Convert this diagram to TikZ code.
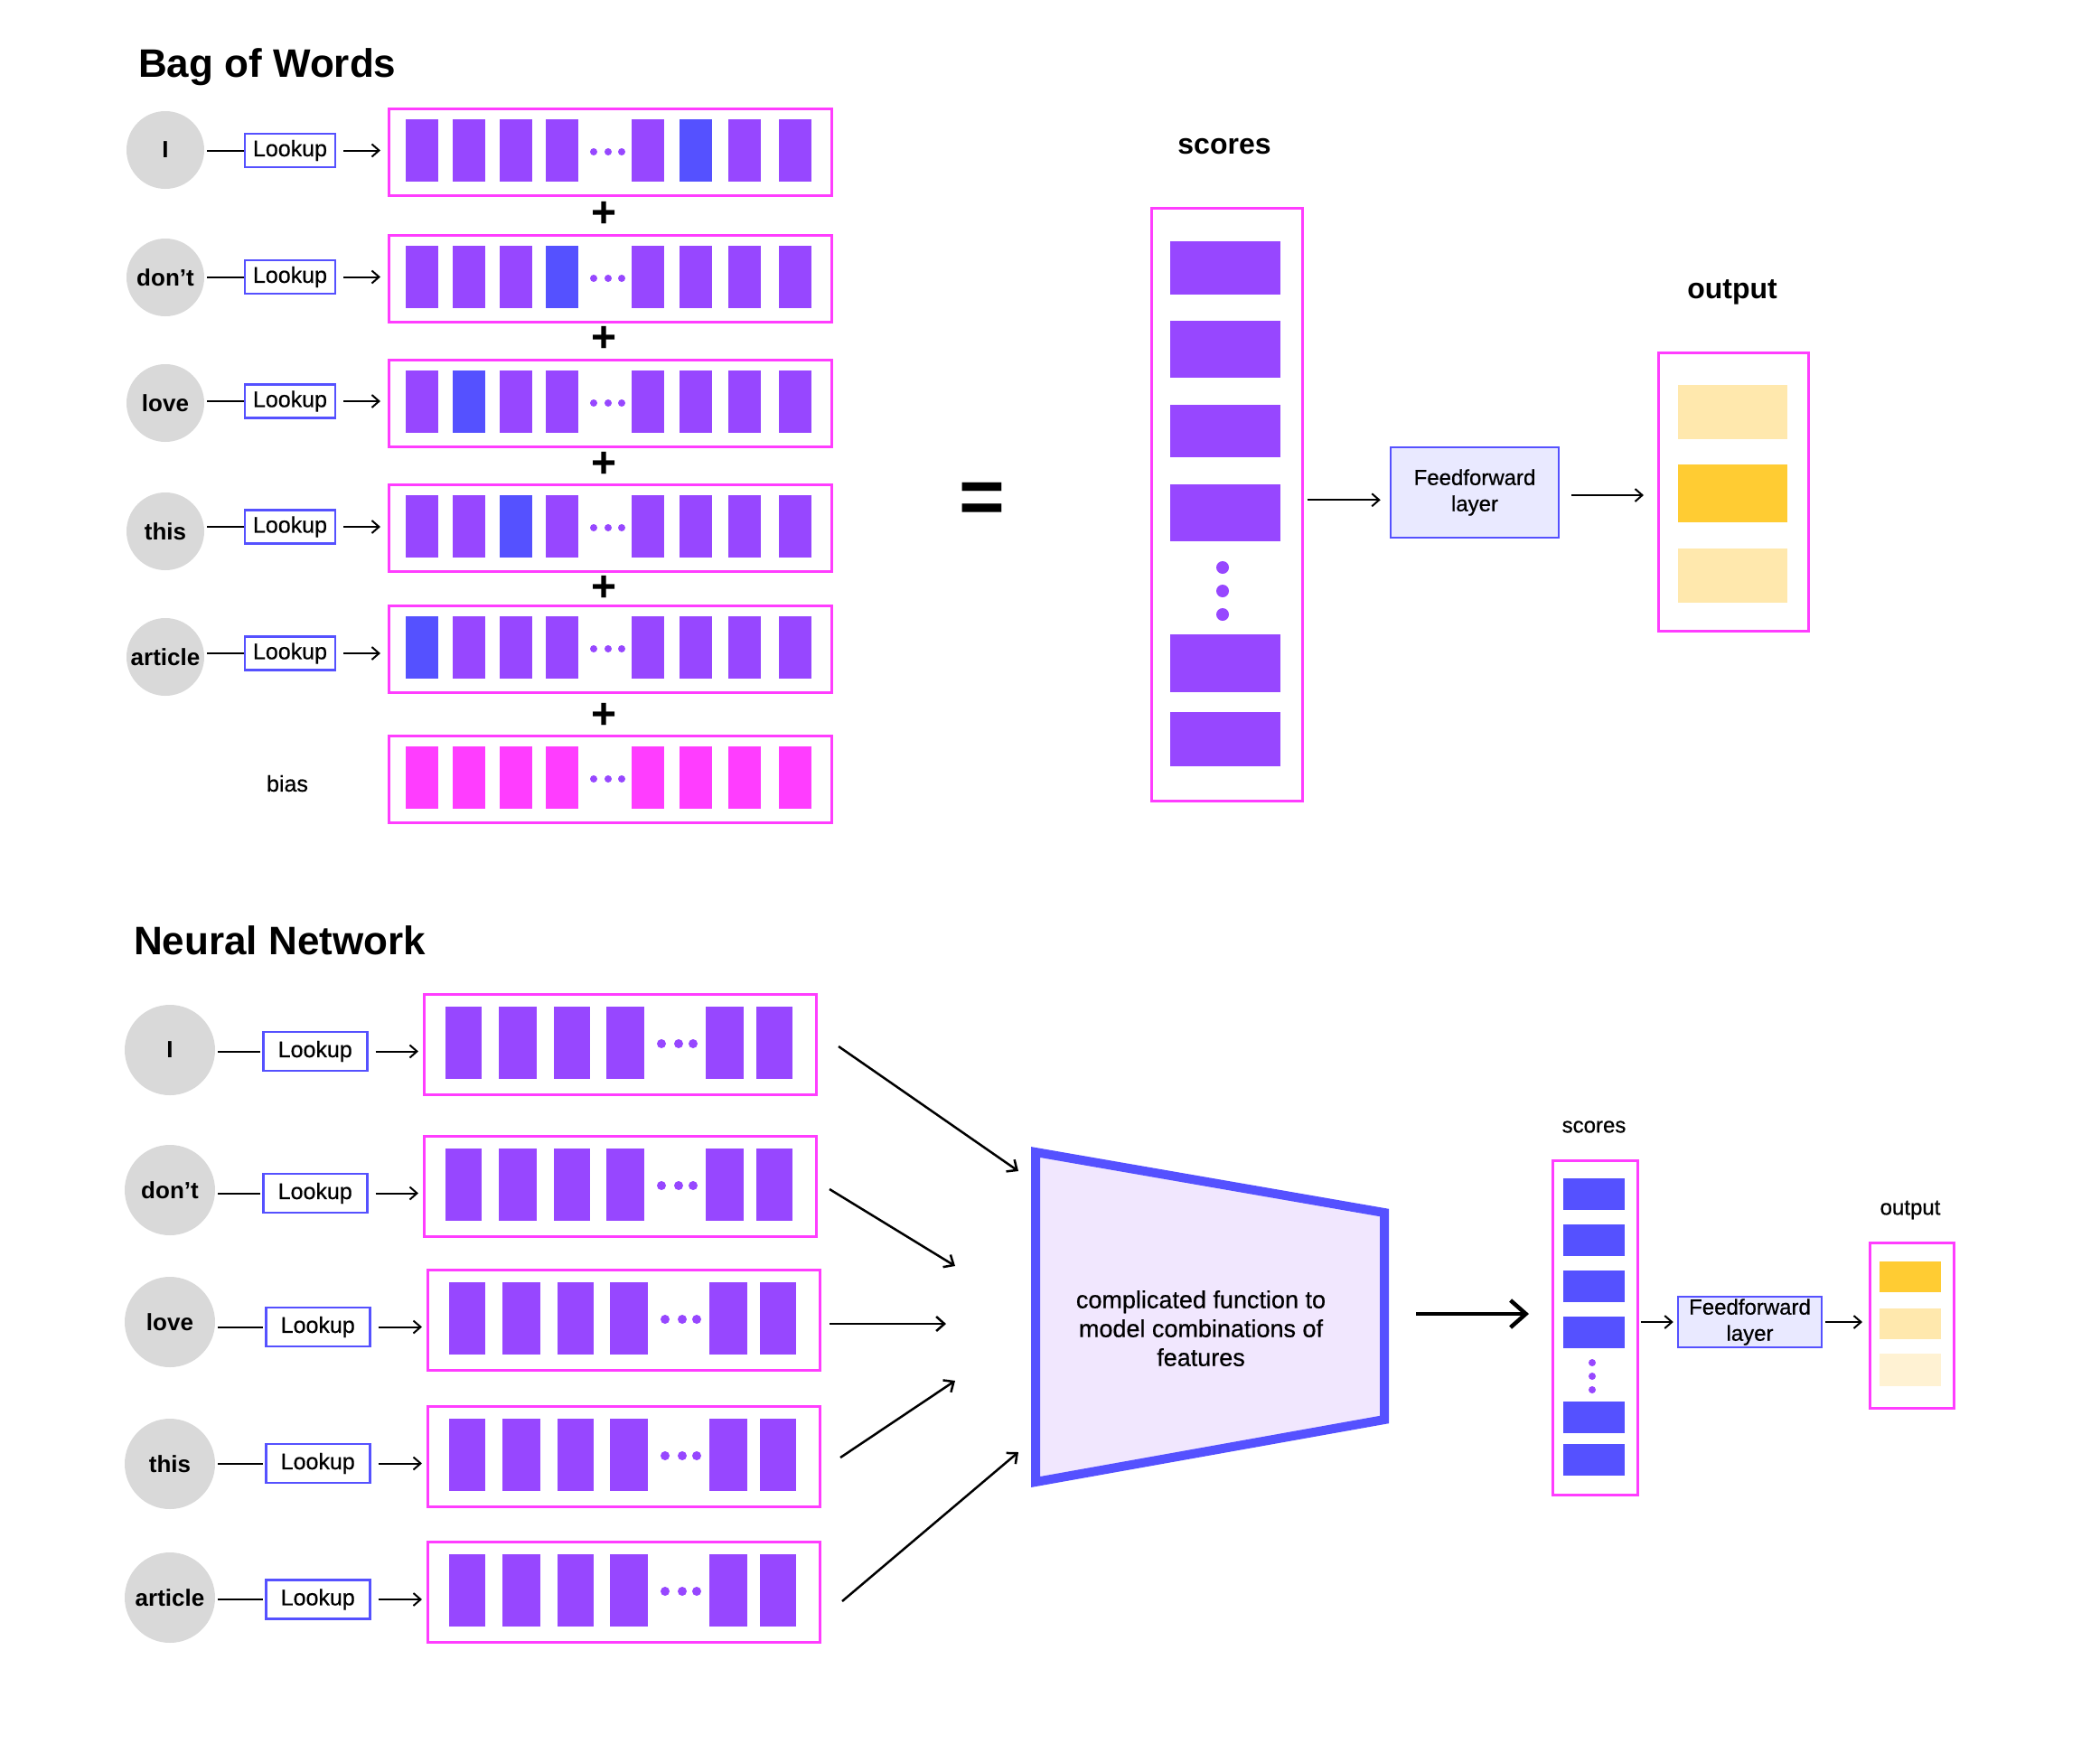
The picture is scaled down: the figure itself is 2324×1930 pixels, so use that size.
\documentclass[tikz,border=0pt]{standalone}
\usepackage{fontspec}
\setmainfont{Liberation Sans}
\newfontfamily\medfont{Liberation Sans}[FakeBold=0.6]
\usetikzlibrary{arrows.meta,calc}
\definecolor{vpurple}{HTML}{9747FF}
\definecolor{vblue}{HTML}{5551FF}
\definecolor{vmag}{HTML}{FF3DFF}
\definecolor{vgrey}{HTML}{D9D9D9}
\definecolor{fflav}{HTML}{E9E9FF}
\definecolor{trlav}{HTML}{F1E7FE}
\definecolor{vgold}{HTML}{FFCC33}
\definecolor{lightgold}{HTML}{FFE8AD}
\definecolor{palegold}{HTML}{FFF2D3}
\tikzset{
  vecbox/.style={draw=vmag, line width=2.5pt, fill=white, rectangle, inner sep=0pt, anchor=north west},
  lookbox/.style={draw=vblue, line width=2.5pt, fill=white, rectangle, inner sep=0pt, font=\medfont\fontsize{25}{30}\selectfont},
  word/.style={circle, fill=vgrey, inner sep=0pt, font=\bfseries\fontsize{26}{31}\selectfont},
  link/.style={line width=2pt},
  arr/.style={-{Straight Barb[length=8pt,width=14pt]}, line width=2pt},
  diag/.style={-{Straight Barb[length=9pt,width=16pt]}, line width=2.5pt},
  bigarr/.style={-{Straight Barb[length=17pt,width=30pt]}, line width=4.5pt},
  ffbox/.style={draw=vblue, line width=2.5pt, fill=fflav, align=center, inner sep=0pt},
  titletext/.style={font=\bfseries\fontsize{44}{53}\selectfont, inner sep=0pt},
  bigl/.style={font=\bfseries\fontsize{32}{38}\selectfont, inner sep=0pt},
  smalll/.style={font=\medfont\fontsize{24}{29}\selectfont, inner sep=0pt},
  plussign/.style={font=\bfseries\fontsize{48}{48}\selectfont, inner sep=0pt},
}
\begin{document}
\begin{tikzpicture}[x=1pt,y=-1pt]
\fill[white] (0,0) rectangle (2324,1930);
\useasboundingbox (0,0) rectangle (2324,1930);

% ---------------- Bag of Words ----------------
\node[titletext, anchor=base west] (t1) at (153,85) {Bag of Words};

\foreach \i/\wrd/\cy/\ly/\ty/\hli in {1/I/166/166.5/119/6, 2/don’t/307/306.5/259/4, 3/love/446/444/397/2, 4/this/588/583/535/3, 5/article/727/723/669/1} {
  \node[word, minimum size=86pt] (tc\i) at (183,\cy) {\wrd};
  \node[lookbox, minimum width=100pt, minimum height=37pt] (tl\i) at (321,\ly) {Lookup};
  \node[vecbox, minimum width=490pt, minimum height=96pt] (tv\i) at (429,\ty) {};
  \foreach \bx [count=\bi] in {20,72,124,175,270,323,377,433} {
    \ifnum\bi=\hli\relax\def\bc{vblue}\else\def\bc{vpurple}\fi
    \fill[\bc] (429+\bx,\ty+13) rectangle ++(36,69);
  }
  \foreach \dx in {228,244,259} \fill[vpurple] (429+\dx,\ty+49) circle[radius=4pt];
  \draw[link, shorten <=3pt] (tc\i.east |- tl\i.west) -- (tl\i.west);
  \draw[arr, shorten <=8pt, shorten >=8pt] (tl\i.east) -- (tl\i.east -| tv\i.west);
}
% bias row
\node[vecbox, minimum width=490pt, minimum height=96pt] (tvb) at (429,813) {};
\foreach \bx in {20,72,124,175,270,323,377,433} \fill[vmag] (429+\bx,813+13) rectangle ++(36,69);
\foreach \dx in {228,244,259} \fill[vpurple] (429+\dx,813+49) circle[radius=4pt];
\node[font=\medfont\fontsize{25}{30}\selectfont, inner sep=0pt] (biasl) at (318,867) {bias};

% plus signs
\foreach \py [count=\k] in {234,372,511,648,789} \node[plussign] (plus\k) at (669,\py+3) {+};

% equals
\node[font=\bfseries\fontsize{87}{87}\selectfont, inner sep=0pt] (eq) at (1087,557) {=};

% scores column
\node[bigl] (tsl) at (1355,162) {scores};
\node[vecbox, minimum width=167pt, minimum height=656pt] (ts) at (1273,229) {};
\foreach \sy/\sh in {267/59, 355/63, 448/58, 536/63, 702/64, 788/60} \fill[vpurple] (1295,\sy) rectangle ++(122,\sh);
\foreach \dy in {628,654,680} \fill[vpurple] (1353,\dy) circle[radius=7pt];

% feedforward
\node[ffbox, minimum width=186pt, minimum height=100pt, font=\medfont\fontsize{24}{29}\selectfont] (tff) at (1632,545) {Feedforward\\layer};
\draw[arr, shorten <=4pt, shorten >=10pt] ([yshift=5pt]ts.east) -- ([yshift=5pt]ts.east -| tff.west);

% output
\node[bigl] (tol) at (1917,323) {output};
\node[vecbox, minimum width=166pt, minimum height=308pt] (to) at (1834,389) {};
\fill[lightgold] (1857,426) rectangle ++(121,60);
\fill[vgold] (1857,514) rectangle ++(121,64);
\fill[lightgold] (1857,607) rectangle ++(121,60);
\draw[arr, shorten <=13pt, shorten >=15pt] ([yshift=-3pt]tff.east) -- ([yshift=-3pt]tff.east -| to.west);

% ---------------- Neural Network ----------------
\node[titletext, anchor=base west] (t2) at (148,1056) {Neural Network};

\foreach \i/\wrd/\cy/\lx/\ly/\bxl/\ty in {1/I/1162/290/1163.5/468/1099, 2/don’t/1317/290/1320.5/468/1256, 3/love/1463/293/1468.5/472/1404, 4/this/1620/293/1619.5/472/1555, 5/article/1768/293/1770/472/1705} {
  \node[word, minimum size=100pt] (bc\i) at (188,\cy) {\wrd};
  \node[lookbox, minimum width=115pt, minimum height=43pt, anchor=west] (bl\i) at (\lx,\ly) {Lookup};
  \node[vecbox, minimum width=434pt, minimum height=111pt] (bv\i) at (\bxl,\ty) {};
  \foreach \bo/\bw in {25/40, 84/42, 145/40, 203/42, 313/42, 369/40}
    \fill[vpurple] (\bxl+\bo,\ty+15) rectangle ++(\bw,80);
  \foreach \dx in {264,283,299} \fill[vpurple] (\bxl+\dx,\ty+56) circle[radius=5pt];
  \draw[link, shorten <=3pt, shorten >=2pt] (bc\i.east |- bl\i.west) -- (bl\i.west);
  \draw[arr, shorten <=8pt, shorten >=5pt] (bl\i.east) -- (bl\i.east -| bv\i.west);
}

% trapezoid
\draw[draw=vblue, fill=trlav, line width=10pt, line join=miter] (1146,1275) -- (1532,1342) -- (1532,1571) -- (1146,1640) -- cycle;
\node[align=center, font=\medfont\fontsize{27}{32}\selectfont, inner sep=0pt] (fn) at (1329,1470) {complicated function to\\model combinations of\\features};

% diagonal arrows
\coordinate (d1s) at (928,1158); \coordinate (d1e) at (1127,1296);
\coordinate (d2s) at (918,1316); \coordinate (d2e) at (1057,1401);
\coordinate (d3s) at (918,1465); \coordinate (d3e) at (1047,1465);
\coordinate (d4s) at (930,1613); \coordinate (d4e) at (1057,1528);
\coordinate (d5s) at (932,1772); \coordinate (d5e) at (1127,1607);
\foreach \k in {1,...,5} \draw[diag] (d\k s) -- (d\k e);

% scores bottom
\node[smalll] (bsl) at (1764,1247) {scores};
\node[vecbox, minimum width=94pt, minimum height=370pt] (bs) at (1717,1283) {};
\foreach \sy in {1304,1355,1406,1457,1551,1598} \fill[vblue] (1730,\sy) rectangle ++(68,35);
\foreach \dy in {1508,1523,1538} \fill[vpurple] (1762,\dy) circle[radius=4pt];

\coordinate (trR) at (1537,1454);
\draw[bigarr] ([xshift=30pt]trR) -- ([xshift=-25pt]trR -| bs.west);

% FF bottom
\node[ffbox, minimum width=159pt, minimum height=56pt, font=\medfont\fontsize{24}{29}\selectfont] (bff) at (1936.5,1463) {Feedforward\\layer};
\draw[arr, shorten <=2pt, shorten >=4pt] (bs.east |- bff.west) -- (bff.west);

% output bottom
\node[smalll] (bol) at (2114,1339) {output};
\node[vecbox, minimum width=93pt, minimum height=183pt] (bo) at (2068,1374) {};
\fill[vgold] (2080,1396) rectangle ++(68,34);
\fill[lightgold] (2080,1448) rectangle ++(68,34);
\fill[palegold] (2080,1498) rectangle ++(68,36);
\draw[arr, shorten <=3pt, shorten >=7pt] (bff.east) -- (bff.east -| bo.west);
\end{tikzpicture}
\end{document}
